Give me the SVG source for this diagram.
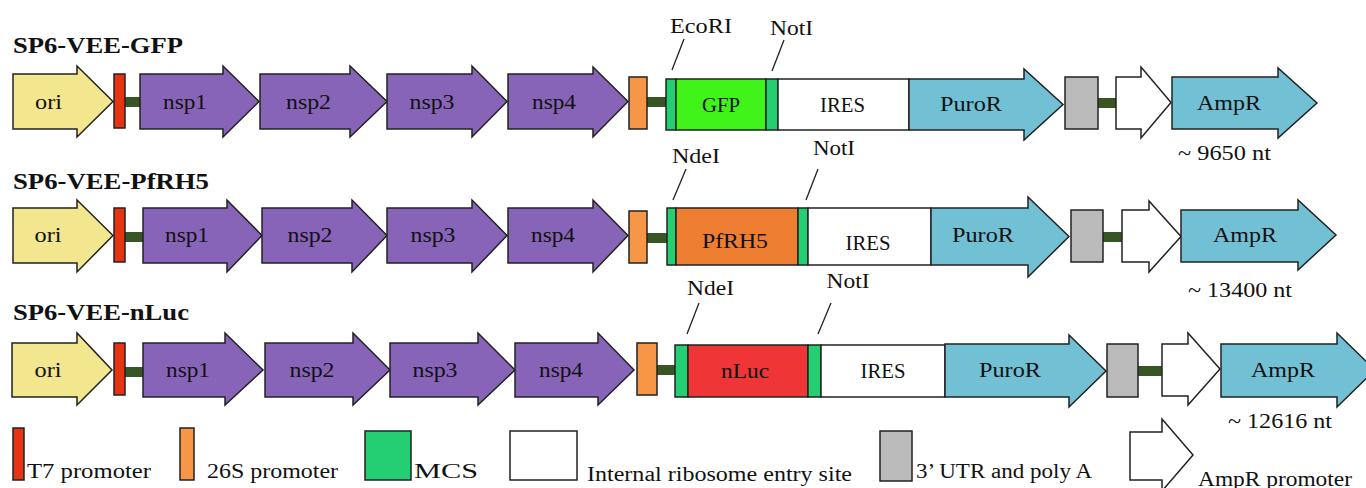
<svg xmlns="http://www.w3.org/2000/svg" width="1366" height="488" viewBox="0 0 1366 488">
<style>
.s{stroke:#222;stroke-width:1.5;stroke-linejoin:miter}
.ori{fill:#F2E68E}.t7{fill:#E63312}.lk{fill:#375623}.nsp{fill:#8764B8}.p26{fill:#F79646}
.mcs{fill:#23CF72}.gfp{fill:#40F41A}.pf{fill:#ED7D31}.nl{fill:#EF3535}.wh{fill:#fff}
.cy{fill:#72C0D4}.gr{fill:#BABABA}
text{font-family:"Liberation Serif","Times New Roman",serif;fill:#111}
.lb{font-size:20px;text-anchor:middle}
.ti{font-size:23px;font-weight:bold}
.rs{font-size:21px;text-anchor:middle}
.lg{font-size:20px}
.sl{stroke:#222;stroke-width:1.3;fill:none}
</style>

<text class="ti" x="13" y="53" textLength="170" lengthAdjust="spacingAndGlyphs">SP6-VEE-GFP</text>
<text class="ti" x="13" y="189" textLength="196" lengthAdjust="spacingAndGlyphs">SP6-VEE-PfRH5</text>
<text class="ti" x="13" y="320" textLength="176" lengthAdjust="spacingAndGlyphs">SP6-VEE-nLuc</text>

<g id="connectors">
<rect class="lk" x="125" y="97" width="15" height="10"/>
<rect class="lk" x="647" y="97" width="19" height="10"/>
<rect class="lk" x="1098" y="98" width="18" height="10"/>
<rect class="lk" x="125" y="232" width="18" height="10"/>
<rect class="lk" x="647" y="233" width="20" height="10"/>
<rect class="lk" x="1103" y="232" width="19" height="10"/>
<rect class="lk" x="125" y="367" width="18" height="10"/>
<rect class="lk" x="657" y="365" width="18" height="10"/>
<rect class="lk" x="1138" y="366" width="24" height="10"/>
<line class="sl" x1="684" y1="39" x2="672" y2="70"/>
<line class="sl" x1="784" y1="40" x2="772" y2="71"/>
<line class="sl" x1="686" y1="169" x2="673" y2="200"/>
<line class="sl" x1="818" y1="169" x2="806" y2="200"/>
<line class="sl" x1="699" y1="303" x2="687" y2="334"/>
<line class="sl" x1="831" y1="303" x2="818" y2="334"/>
</g>

<!-- Row 1 -->
<g id="r1-ori"><polygon class="s ori" points="13,74 77,74 77,66 113,101.5 77,137 77,129 13,129"/><text class="lb" x="48.5" y="109" textLength="27" lengthAdjust="spacingAndGlyphs">ori</text></g>
<g id="r1-t7"><rect class="s t7" x="114" y="74" width="11" height="54"/></g>
<g id="r1-nsp1"><polygon class="s nsp" points="140,74 223,74 223,66 259,101.5 223,137 223,129 140,129"/><text class="lb" x="185" y="109" textLength="44" lengthAdjust="spacingAndGlyphs">nsp1</text></g>
<g id="r1-nsp2"><polygon class="s nsp" points="260,74 350,74 350,66 387,101.5 350,137 350,129 260,129"/><text class="lb" x="308.5" y="109" textLength="45" lengthAdjust="spacingAndGlyphs">nsp2</text></g>
<g id="r1-nsp3"><polygon class="s nsp" points="387,74 472,74 472,66 507,101.5 472,137 472,129 387,129"/><text class="lb" x="432" y="109" textLength="45" lengthAdjust="spacingAndGlyphs">nsp3</text></g>
<g id="r1-nsp4"><polygon class="s nsp" points="508,74 593,74 593,67 628,101.5 593,137 593,129 508,129"/><text class="lb" x="554" y="109" textLength="44" lengthAdjust="spacingAndGlyphs">nsp4</text></g>
<g id="r1-26s"><rect class="s p26" x="629" y="77" width="18" height="52"/></g>
<g id="r1-mcs1"><rect class="s mcs" x="666" y="79" width="10" height="51"/></g>
<g id="r1-gfp"><rect class="s gfp" x="676" y="79" width="90" height="51"/><text class="lb" x="721" y="112" textLength="38" lengthAdjust="spacingAndGlyphs">GFP</text></g>
<g id="r1-mcs2"><rect class="s mcs" x="766" y="79" width="12" height="51"/></g>
<g id="r1-ires"><rect class="s wh" x="778" y="79" width="131" height="51"/><text class="lb" x="842.5" y="112" textLength="45" lengthAdjust="spacingAndGlyphs">IRES</text></g>
<g id="r1-puro"><polygon class="s cy" points="909,79 1024,79 1024,69 1063,104.5 1024,140 1024,130 909,130"/><text class="lb" x="971" y="111" textLength="62" lengthAdjust="spacingAndGlyphs">PuroR</text></g>
<g id="r1-utr"><rect class="s gr" x="1065" y="77" width="33" height="52"/></g>
<g id="r1-amppro"><polygon class="s wh" points="1116,77 1141,77 1141,67 1171,102.5 1141,138 1141,129 1116,129"/></g>
<g id="r1-amp"><polygon class="s cy" points="1172,77 1278,77 1278,68 1317,103 1278,138 1278,129 1172,129"/><text class="lb" x="1229" y="110" textLength="64" lengthAdjust="spacingAndGlyphs">AmpR</text></g>
<g id="r1-sites"><text class="rs" x="701" y="33" textLength="62" lengthAdjust="spacingAndGlyphs">EcoRI</text><text class="rs" x="791.5" y="35" textLength="43" lengthAdjust="spacingAndGlyphs">NotI</text></g>
<g id="r1-size"><text class="rs" x="1224.5" y="160" textLength="93" lengthAdjust="spacingAndGlyphs">~ 9650 nt</text></g>

<!-- Row 2 -->
<g id="r2-ori"><polygon class="s ori" points="13,208 77,208 77,200 113,235.5 77,272 77,263 13,263"/><text class="lb" x="48" y="242" textLength="27" lengthAdjust="spacingAndGlyphs">ori</text></g>
<g id="r2-t7"><rect class="s t7" x="114" y="208" width="11" height="54"/></g>
<g id="r2-nsp1"><polygon class="s nsp" points="143,208 227,208 227,200 262,235.5 227,272 227,263 143,263"/><text class="lb" x="187" y="242" textLength="44" lengthAdjust="spacingAndGlyphs">nsp1</text></g>
<g id="r2-nsp2"><polygon class="s nsp" points="262,208 352,208 352,200 387,235.5 352,272 352,263 262,263"/><text class="lb" x="310" y="242" textLength="45" lengthAdjust="spacingAndGlyphs">nsp2</text></g>
<g id="r2-nsp3"><polygon class="s nsp" points="387,208 472,208 472,200 507,235.5 472,272 472,263 387,263"/><text class="lb" x="433" y="242" textLength="45" lengthAdjust="spacingAndGlyphs">nsp3</text></g>
<g id="r2-nsp4"><polygon class="s nsp" points="508,208 593,208 593,200 628,235.5 593,272 593,263 508,263"/><text class="lb" x="553" y="242" textLength="44" lengthAdjust="spacingAndGlyphs">nsp4</text></g>
<g id="r2-26s"><rect class="s p26" x="629" y="211" width="18" height="52"/></g>
<g id="r2-mcs1"><rect class="s mcs" x="667" y="208" width="9" height="57"/></g>
<g id="r2-pf"><rect class="s pf" x="676" y="208" width="122" height="57"/><text class="lb" x="735" y="248" textLength="66" lengthAdjust="spacingAndGlyphs">PfRH5</text></g>
<g id="r2-mcs2"><rect class="s mcs" x="798" y="208" width="10" height="57"/></g>
<g id="r2-ires"><rect class="s wh" x="808" y="208" width="123" height="57"/><text class="lb" x="868" y="250" textLength="45" lengthAdjust="spacingAndGlyphs">IRES</text></g>
<g id="r2-puro"><polygon class="s cy" points="931,208 1028,208 1028,197 1069,236.5 1028,277 1028,265 931,265"/><text class="lb" x="983" y="242" textLength="62" lengthAdjust="spacingAndGlyphs">PuroR</text></g>
<g id="r2-utr"><rect class="s gr" x="1071" y="210" width="32" height="52"/></g>
<g id="r2-amppro"><polygon class="s wh" points="1122,210 1149,210 1149,201 1181,236.5 1149,272 1149,262 1122,262"/></g>
<g id="r2-amp"><polygon class="s cy" points="1181,210 1298,210 1298,200 1336,235 1298,270 1298,262 1181,262"/><text class="lb" x="1245" y="242" textLength="64" lengthAdjust="spacingAndGlyphs">AmpR</text></g>
<g id="r2-sites"><text class="rs" x="696" y="163" textLength="48" lengthAdjust="spacingAndGlyphs">NdeI</text><text class="rs" x="834" y="155" textLength="42" lengthAdjust="spacingAndGlyphs">NotI</text></g>
<g id="r2-size"><text class="rs" x="1240" y="297" textLength="104" lengthAdjust="spacingAndGlyphs">~ 13400 nt</text></g>

<!-- Row 3 -->
<g id="r3-ori"><polygon class="s ori" points="12,343 77,343 77,333 112,370 77,405 77,397 12,397"/><text class="lb" x="48" y="377" textLength="27" lengthAdjust="spacingAndGlyphs">ori</text></g>
<g id="r3-t7"><rect class="s t7" x="114" y="343" width="11" height="52"/></g>
<g id="r3-nsp1"><polygon class="s nsp" points="143,343 225,343 225,333 263,370 225,405 225,397 143,397"/><text class="lb" x="188" y="377" textLength="44" lengthAdjust="spacingAndGlyphs">nsp1</text></g>
<g id="r3-nsp2"><polygon class="s nsp" points="265,343 353,343 353,333 390,370 353,405 353,397 265,397"/><text class="lb" x="312" y="377" textLength="45" lengthAdjust="spacingAndGlyphs">nsp2</text></g>
<g id="r3-nsp3"><polygon class="s nsp" points="390,343 478,343 478,333 515,370 478,405 478,397 390,397"/><text class="lb" x="435" y="377" textLength="45" lengthAdjust="spacingAndGlyphs">nsp3</text></g>
<g id="r3-nsp4"><polygon class="s nsp" points="515,343 598,343 598,333 634,370 598,405 598,397 515,397"/><text class="lb" x="561" y="377" textLength="44" lengthAdjust="spacingAndGlyphs">nsp4</text></g>
<g id="r3-26s"><rect class="s p26" x="637" y="343" width="20" height="52"/></g>
<g id="r3-mcs1"><rect class="s mcs" x="675" y="345" width="13" height="52"/></g>
<g id="r3-nluc"><rect class="s nl" x="688" y="345" width="120" height="52"/><text class="lb" x="745" y="378" textLength="48" lengthAdjust="spacingAndGlyphs">nLuc</text></g>
<g id="r3-mcs2"><rect class="s mcs" x="808" y="345" width="13" height="52"/></g>
<g id="r3-ires"><rect class="s wh" x="821" y="345" width="124" height="52"/><text class="lb" x="883" y="378" textLength="45" lengthAdjust="spacingAndGlyphs">IRES</text></g>
<g id="r3-puro"><polygon class="s cy" points="945,344 1069,344 1069,335 1106,371 1069,407 1069,397 945,397"/><text class="lb" x="1010" y="377" textLength="62" lengthAdjust="spacingAndGlyphs">PuroR</text></g>
<g id="r3-utr"><rect class="s gr" x="1107" y="344" width="31" height="53"/></g>
<g id="r3-amppro"><polygon class="s wh" points="1162,344 1188,344 1188,333 1220,369 1188,405 1188,396 1162,396"/></g>
<g id="r3-amp"><polygon class="s cy" points="1221,344 1337,344 1337,333 1375,370 1337,407 1337,397 1221,397"/><text class="lb" x="1283" y="377" textLength="64" lengthAdjust="spacingAndGlyphs">AmpR</text></g>
<g id="r3-sites"><text class="rs" x="710.5" y="295" textLength="47" lengthAdjust="spacingAndGlyphs">NdeI</text><text class="rs" x="848" y="288" textLength="43" lengthAdjust="spacingAndGlyphs">NotI</text></g>
<g id="r3-size"><text class="rs" x="1280" y="428" textLength="104" lengthAdjust="spacingAndGlyphs">~ 12616 nt</text></g>

<!-- Legend -->
<g id="legend-t7"><rect class="s t7" x="13" y="428" width="11" height="52"/><text class="lg" x="27" y="478" textLength="124" lengthAdjust="spacingAndGlyphs">T7 promoter</text></g>
<g id="legend-26s"><rect class="s p26" x="180" y="428" width="14" height="52"/><text class="lg" x="207" y="478" textLength="131" lengthAdjust="spacingAndGlyphs">26S promoter</text></g>
<g id="legend-mcs"><rect class="s mcs" x="365" y="431" width="46" height="49"/><text class="lg" x="414" y="478" textLength="64" lengthAdjust="spacingAndGlyphs">MCS</text></g>
<g id="legend-ires"><rect class="s wh" x="510" y="431" width="67" height="49"/><text class="lg" x="587" y="481" textLength="265" lengthAdjust="spacingAndGlyphs">Internal ribosome entry site</text></g>
<g id="legend-utr"><rect class="s gr" x="880" y="431" width="32" height="50"/><text class="lg" x="916" y="478" textLength="176" lengthAdjust="spacingAndGlyphs">3’ UTR and poly A</text></g>
<g id="legend-amppro"><polygon class="s wh" points="1130,432 1162,432 1162,419 1193,455 1162,491 1162,480 1130,480"/><text class="lg" x="1198" y="486" textLength="154" lengthAdjust="spacingAndGlyphs">AmpR promoter</text></g>
</svg>
